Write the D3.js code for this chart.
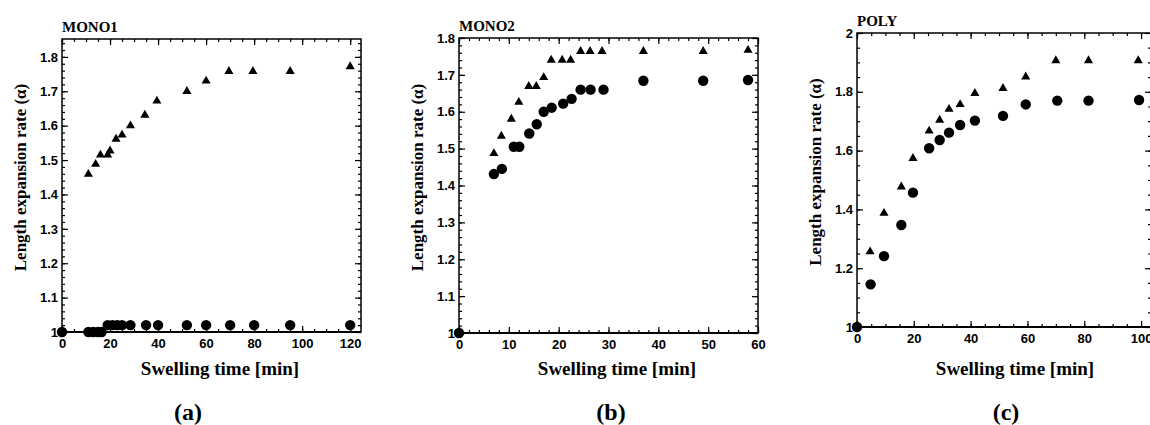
<!DOCTYPE html>
<html>
<head>
<meta charset="utf-8">
<script src="https://cdn.jsdelivr.net/npm/d3@7"></script>
<style>
  body { margin: 0; background: #fff; }
  svg { display: block; }
  .tick text { font-family: "Liberation Sans", Arial, sans-serif; font-weight: bold; font-size: 13px; fill: #000; }
  .tick line { stroke: #000; stroke-width: 1.2; }
</style>
</head>
<body>
<svg id="chart" width="1150" height="425"></svg>
<script>
// MONO1 (panel a)
var monoOneTriTime = [11, 14, 16, 19, 20, 22.5, 25, 28.5, 34.5, 39.5, 52, 60, 69.5, 79.5, 95, 120];
var monoOneTriRate = [1.459, 1.488, 1.515, 1.515, 1.527, 1.561, 1.573, 1.600, 1.631, 1.672, 1.700, 1.730, 1.758, 1.758, 1.758, 1.772];
var monoOneDotTime = [0, 11, 13, 15, 16.5, 19, 21, 23, 25, 28.5, 35, 40, 52, 60, 70, 80, 95, 120];
var monoOneDotRate = [1, 1, 1, 1, 1, 1.02, 1.02, 1.02, 1.02, 1.02, 1.02, 1.02, 1.02, 1.02, 1.02, 1.02, 1.02, 1.02];

// MONO2 (panel b)
var monoTwoTriTime = [7, 8.5, 10.5, 12, 14, 15.5, 17, 18.5, 20.7, 22.4, 24.4, 26.3, 28.7, 37, 49, 58];
var monoTwoTriRate = [1.487, 1.534, 1.580, 1.626, 1.669, 1.669, 1.693, 1.740, 1.740, 1.740, 1.764, 1.764, 1.764, 1.764, 1.764, 1.767];
var monoTwoDotTime = [0, 7, 8.6, 11, 12.1, 14.1, 15.6, 17, 18.6, 20.9, 22.6, 24.4, 26.4, 29, 37, 49, 58];
var monoTwoDotRate = [1, 1.431, 1.445, 1.505, 1.505, 1.541, 1.566, 1.600, 1.611, 1.622, 1.635, 1.660, 1.660, 1.660, 1.684, 1.684, 1.686];

// POLY (panel c)
var polyTriTime = [4.6, 9.5, 15.6, 19.7, 25.4, 29.1, 32.4, 36.3, 41.5, 51.4, 59.4, 70, 81.5, 99];
var polyTriRate = [1.256, 1.387, 1.477, 1.574, 1.667, 1.704, 1.741, 1.757, 1.795, 1.812, 1.851, 1.906, 1.906, 1.906];
var polyDotTime = [0, 4.8, 9.5, 15.6, 19.7, 25.4, 29.1, 32.4, 36.3, 41.5, 51.4, 59.4, 70.5, 81.5, 99.3];
var polyDotRate = [1, 1.145, 1.241, 1.347, 1.457, 1.608, 1.636, 1.661, 1.687, 1.702, 1.718, 1.757, 1.770, 1.770, 1.772];

// tick labels
var monoOneXTicks = [0, 20, 40, 60, 80, 100, 120];
var monoTwoXTicks = [0, 10, 20, 30, 40, 50, 60];
var polyXTicks = [0, 20, 40, 60, 80, 100];
var monoYTicks = [1, 1.1, 1.2, 1.3, 1.4, 1.5, 1.6, 1.7, 1.8];
var polyYTicks = [1, 1.2, 1.4, 1.6, 1.8, 2];

var yTitle = "Length expansion rate (\u03b1)";
var xTitle = "Swelling time [min]";

var svg = d3.select("#chart");

function zip(a, b) {
    return a.map(function (d, i) { return [d, b[i]]; });
}

function range(a, b, step) {
    var out = [];
    for (var v = a; v <= b + 1e-9; v += step) out.push(+v.toFixed(4));
    return out;
}

function drawPanel(p) {
    var x = d3.scaleLinear().domain(p.xDomain).range([p.left, p.right]);
    var y = d3.scaleLinear().domain(p.yDomain).range([p.bottom, p.top]);
    var g = svg.append("g");
    var fmt = function (d) { return String(+d.toFixed(1)); };

    var xMinor = range(p.xDomain[0], p.xDomain[1], p.xMinor);
    var yMinor = range(p.yDomain[0], p.yDomain[1], p.yMinor);

    // minor ticks, all four sides, pointing inward
    g.append("g").attr("transform", "translate(0," + p.bottom + ")")
        .call(d3.axisBottom(x).tickValues(xMinor).tickSize(-3).tickSizeOuter(0).tickFormat(""));
    g.append("g").attr("transform", "translate(0," + p.top + ")")
        .call(d3.axisTop(x).tickValues(xMinor).tickSize(-3).tickSizeOuter(0).tickFormat(""));
    g.append("g").attr("transform", "translate(" + p.left + ",0)")
        .call(d3.axisLeft(y).tickValues(yMinor).tickSize(-3).tickSizeOuter(0).tickFormat(""));
    g.append("g").attr("transform", "translate(" + p.right + ",0)")
        .call(d3.axisRight(y).tickValues(yMinor).tickSize(-3).tickSizeOuter(0).tickFormat(""));

    // major ticks
    g.append("g").attr("transform", "translate(0," + p.bottom + ")")
        .call(d3.axisBottom(x).tickValues(p.xTicks).tickSize(-6).tickSizeOuter(0).tickPadding(7).tickFormat(fmt));
    g.append("g").attr("transform", "translate(0," + p.top + ")")
        .call(d3.axisTop(x).tickValues(p.xTicks).tickSize(-6).tickSizeOuter(0).tickFormat(""));
    g.append("g").attr("transform", "translate(" + p.left + ",0)")
        .call(d3.axisLeft(y).tickValues(p.yTicks).tickSize(-6).tickSizeOuter(0).tickPadding(4).tickFormat(fmt));
    g.append("g").attr("transform", "translate(" + p.right + ",0)")
        .call(d3.axisRight(y).tickValues(p.yTicks).tickSize(-6).tickSizeOuter(0).tickFormat(""));

    g.selectAll(".domain").remove();

    // frame
    g.append("rect")
        .attr("x", p.left).attr("y", p.top)
        .attr("width", p.right - p.left).attr("height", p.bottom - p.top)
        .attr("fill", "none").attr("stroke", "#000").attr("stroke-width", 1.5);
    g.append("line")
        .attr("x1", p.left).attr("x2", p.right)
        .attr("y1", p.bottom).attr("y2", p.bottom)
        .attr("stroke", "#000").attr("stroke-width", 2);

    // points
    g.selectAll("circle.dot")
        .data(zip(p.dotTime, p.dotRate))
        .enter()
        .append("circle")
        .attr("class", "dot")
        .attr("cx", function (d) { return x(d[0]); })
        .attr("cy", function (d) { return y(d[1]); })
        .attr("r", 5.2)
        .attr("fill", "#000");

    g.selectAll("path.tri")
        .data(zip(p.triTime, p.triRate))
        .enter()
        .append("path")
        .attr("class", "tri")
        .attr("d", d3.symbol(d3.symbolTriangle, 36))
        .attr("transform", function (d) { return "translate(" + x(d[0]) + "," + y(d[1]) + ")"; })
        .attr("fill", "#000");

    // texts
    g.append("text")
        .attr("x", p.left).attr("y", p.top - 7)
        .attr("font-family", "Liberation Serif, serif")
        .attr("font-weight", "bold").attr("font-size", "15px")
        .text(p.name);

    g.append("text")
        .attr("x", p.left + 158).attr("y", 375)
        .attr("text-anchor", "middle")
        .attr("font-family", "Liberation Serif, serif")
        .attr("font-weight", "bold").attr("font-size", "19px")
        .text(xTitle);

    g.append("text")
        .attr("transform", "translate(" + (p.left - 36) + "," + ((p.top + p.bottom) / 2 - 8) + ") rotate(-90)")
        .attr("text-anchor", "middle")
        .attr("font-family", "Liberation Serif, serif")
        .attr("font-weight", "bold").attr("font-size", "17px")
        .text(yTitle);

    g.append("text")
        .attr("x", p.labelX).attr("y", 420)
        .attr("text-anchor", "middle")
        .attr("font-family", "Liberation Serif, serif")
        .attr("font-weight", "bold").attr("font-size", "24px")
        .text(p.label);
}

drawPanel({
    name: "MONO1", label: "(a)", labelX: 188,
    left: 62, right: 361, top: 39, bottom: 332,
    xDomain: [0, 124.5], yDomain: [1, 1.852],
    xTicks: monoOneXTicks, yTicks: monoYTicks, xMinor: 5, yMinor: 0.02,
    triTime: monoOneTriTime, triRate: monoOneTriRate,
    dotTime: monoOneDotTime, dotRate: monoOneDotRate
});

drawPanel({
    name: "MONO2", label: "(b)", labelX: 611,
    left: 459, right: 758, top: 38, bottom: 333,
    xDomain: [0, 60], yDomain: [1, 1.8],
    xTicks: monoTwoXTicks, yTicks: monoYTicks, xMinor: 2, yMinor: 0.02,
    triTime: monoTwoTriTime, triRate: monoTwoTriRate,
    dotTime: monoTwoDotTime, dotRate: monoTwoDotRate
});

drawPanel({
    name: "POLY", label: "(c)", labelX: 1006,
    left: 857, right: 1151, top: 33, bottom: 327,
    xDomain: [0, 103.5], yDomain: [1, 2],
    xTicks: polyXTicks, yTicks: polyYTicks, xMinor: 5, yMinor: 0.05,
    triTime: polyTriTime, triRate: polyTriRate,
    dotTime: polyDotTime, dotRate: polyDotRate
});
</script>
</body>
</html>
